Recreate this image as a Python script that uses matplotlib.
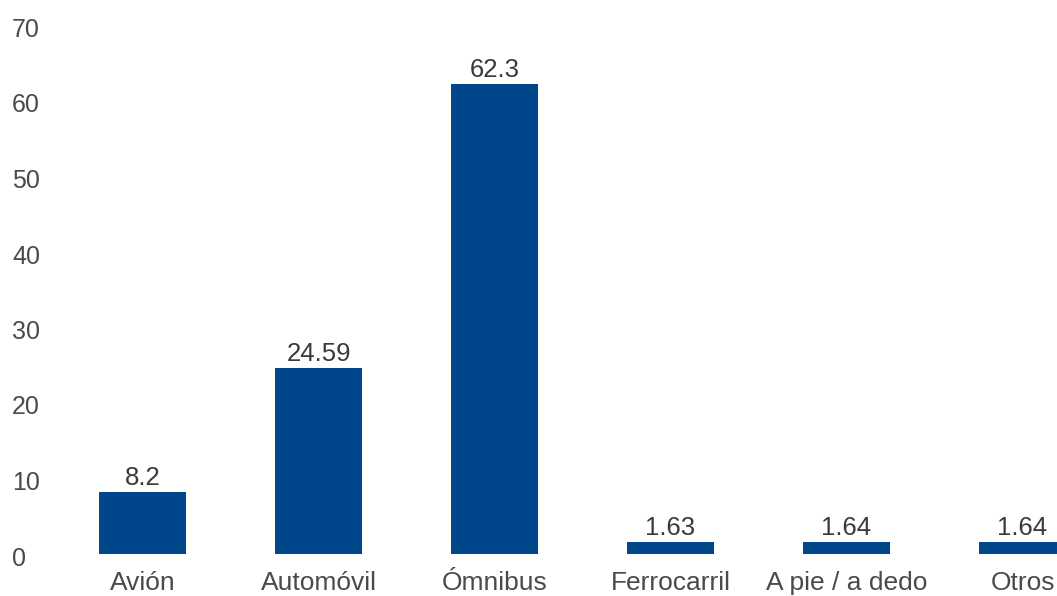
import matplotlib
matplotlib.use("Agg")
import matplotlib.pyplot as plt
from matplotlib.transforms import offset_copy

categories = ["Avión", "Automóvil", "Ómnibus", "Ferrocarril", "A pie / a dedo", "Otros"]
values = [8.2, 24.59, 62.3, 1.63, 1.64, 1.64]
value_labels = ["8.2", "24.59", "62.3", "1.63", "1.64", "1.64"]
yticks = [0, 10, 20, 30, 40, 50, 60, 70]

plt.rcParams['font.family'] = ['Liberation Sans', 'DejaVu Sans']

W, H = 1057, 596
fig = plt.figure(figsize=(W / 100, H / 100), dpi=100)
left_px, bottom_px, top_px = 54.5, 554.0, 25.5
ax = fig.add_axes([left_px / W, (H - bottom_px) / H, (W - left_px) / W, (bottom_px - top_px) / H])

bar_color = "#00468B"
x = list(range(len(categories)))
bars = ax.bar(x, values, width=0.495, color=bar_color)

for b, lab in zip(bars, value_labels):
    ax.annotate(lab, (b.get_x() + b.get_width() / 2, b.get_height()),
                xytext=(0, 5), textcoords="offset points",
                ha="center", va="baseline", fontsize=18.5, color="#3a3a3a")

ax.set_xlim(-0.5, 5.196)
ax.set_ylim(0, 70)
ax.set_xticks(x)
ax.set_xticklabels(categories)
ax.set_yticks(yticks)
ax.tick_params(axis="both", length=0, colors="#4a4a4a")
ax.tick_params(axis="x", pad=12.5, labelsize=19)
ax.tick_params(axis="y", pad=30.5, labelsize=18)
for lbl in ax.get_yticklabels():
    lbl.set_horizontalalignment("left")
    lbl.set_transform(offset_copy(lbl.get_transform(), fig=fig, x=0, y=-2, units="dots"))
for s in ax.spines.values():
    s.set_visible(False)

fig.savefig("out.png", dpi=100)
